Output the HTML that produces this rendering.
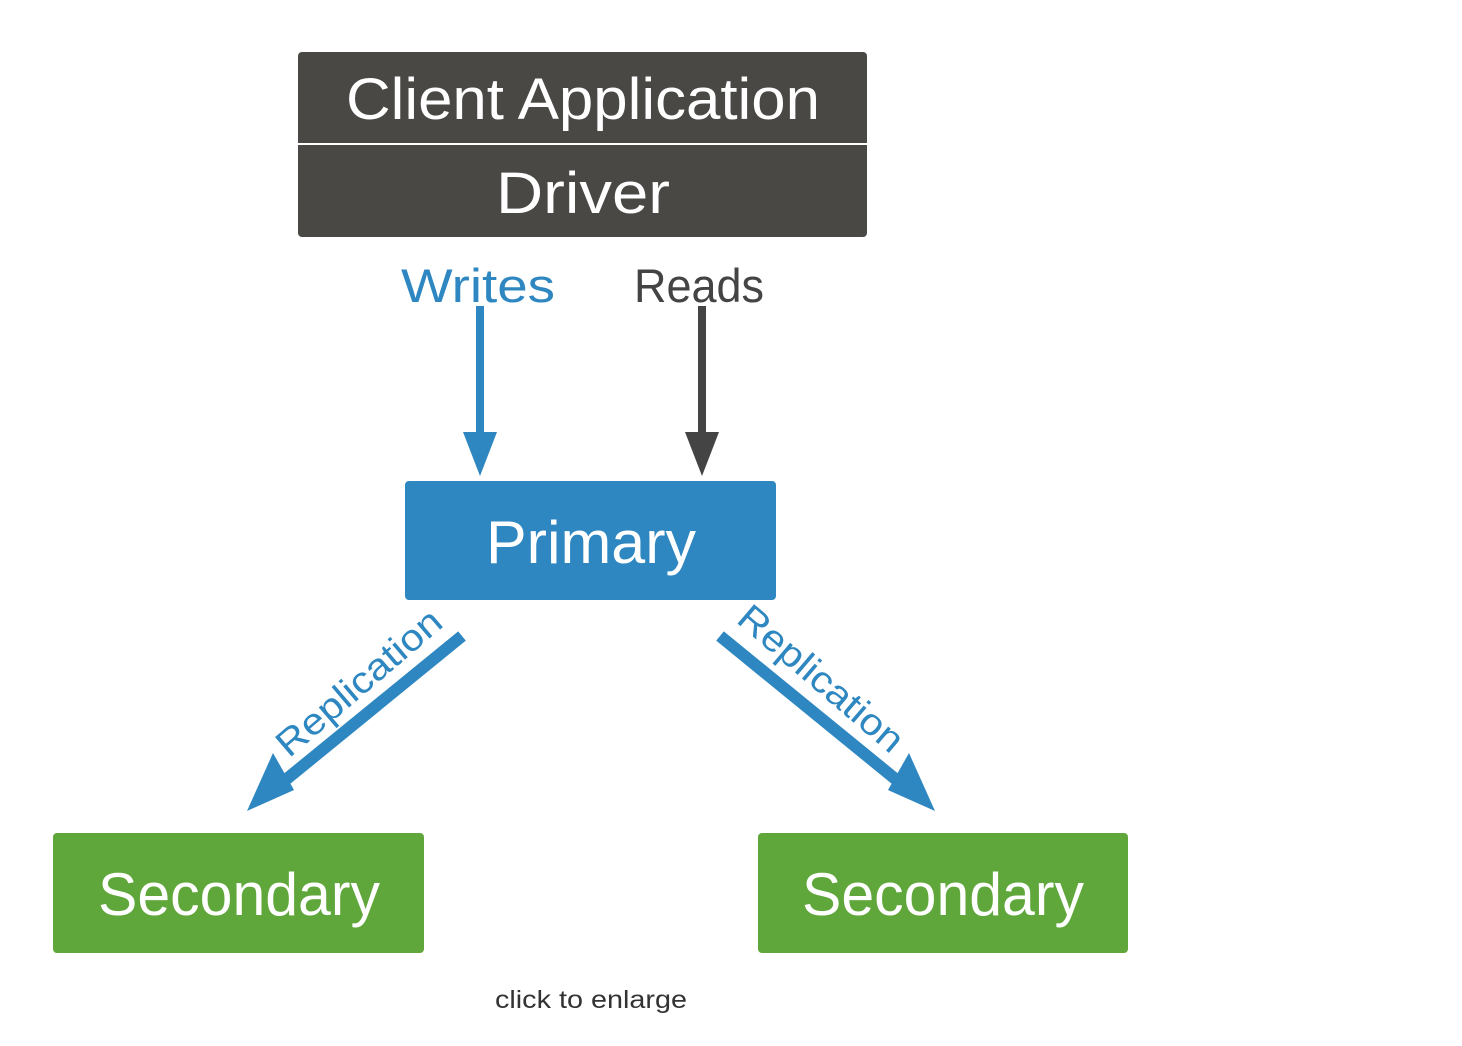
<!DOCTYPE html>
<html><head><meta charset="utf-8"><style>
html,body{margin:0;padding:0;background:#fff;}
svg{display:block;}
text{font-family:"Liberation Sans",sans-serif;}
</style></head><body>
<svg width="1462" height="1046" viewBox="0 0 1462 1046" xmlns="http://www.w3.org/2000/svg">
<rect x="298" y="52" width="569" height="185" rx="4" fill="#4a4844"/>
<line x1="298" y1="144" x2="867" y2="144" stroke="#fff" stroke-width="2"/>
<text x="583" y="119" font-size="58" fill="#fff" text-anchor="middle" textLength="474" lengthAdjust="spacingAndGlyphs">Client Application</text>
<text x="583" y="213" font-size="58" fill="#fff" text-anchor="middle" textLength="174" lengthAdjust="spacingAndGlyphs">Driver</text>
<text x="478" y="302" font-size="47" fill="#2e87c0" text-anchor="middle" textLength="154" lengthAdjust="spacingAndGlyphs">Writes</text>
<text x="699" y="302" font-size="47" fill="#444" text-anchor="middle" textLength="130" lengthAdjust="spacingAndGlyphs">Reads</text>
<line x1="480" y1="306" x2="480" y2="436" stroke="#2e87c0" stroke-width="8"/>
<polygon points="463,432 497,432 480,476" fill="#2e87c0"/>
<line x1="702" y1="306" x2="702" y2="436" stroke="#444" stroke-width="8"/>
<polygon points="685,432 719,432 702,476" fill="#444"/>
<rect x="405" y="481" width="371" height="119" rx="4" fill="#2e87c0"/>
<text x="591" y="563" font-size="60" fill="#fff" text-anchor="middle" textLength="210" lengthAdjust="spacingAndGlyphs">Primary</text>
<line x1="462" y1="636" x2="283" y2="782" stroke="#2e87c0" stroke-width="12"/>
<polygon points="273,753 294,790 247,811" fill="#2e87c0"/>
<line x1="720" y1="636" x2="899" y2="782" stroke="#2e87c0" stroke-width="12"/>
<polygon points="909,753 888,790 935,811" fill="#2e87c0"/>
<text transform="translate(367,692) rotate(-40.5)" font-size="37" fill="#2e87c0" text-anchor="middle" textLength="205" lengthAdjust="spacingAndGlyphs">Replication</text>
<text transform="translate(813,688) rotate(40.5)" font-size="37" fill="#2e87c0" text-anchor="middle" textLength="205" lengthAdjust="spacingAndGlyphs">Replication</text>
<rect x="53" y="833" width="371" height="120" rx="4" fill="#5fa73b"/>
<text x="239" y="915" font-size="60" fill="#fff" text-anchor="middle" textLength="282" lengthAdjust="spacingAndGlyphs">Secondary</text>
<rect x="758" y="833" width="370" height="120" rx="4" fill="#5fa73b"/>
<text x="943" y="915" font-size="60" fill="#fff" text-anchor="middle" textLength="282" lengthAdjust="spacingAndGlyphs">Secondary</text>
<text x="591" y="1008" font-size="25" fill="#333" text-anchor="middle" textLength="192" lengthAdjust="spacingAndGlyphs">click to enlarge</text>
</svg>
</body></html>
